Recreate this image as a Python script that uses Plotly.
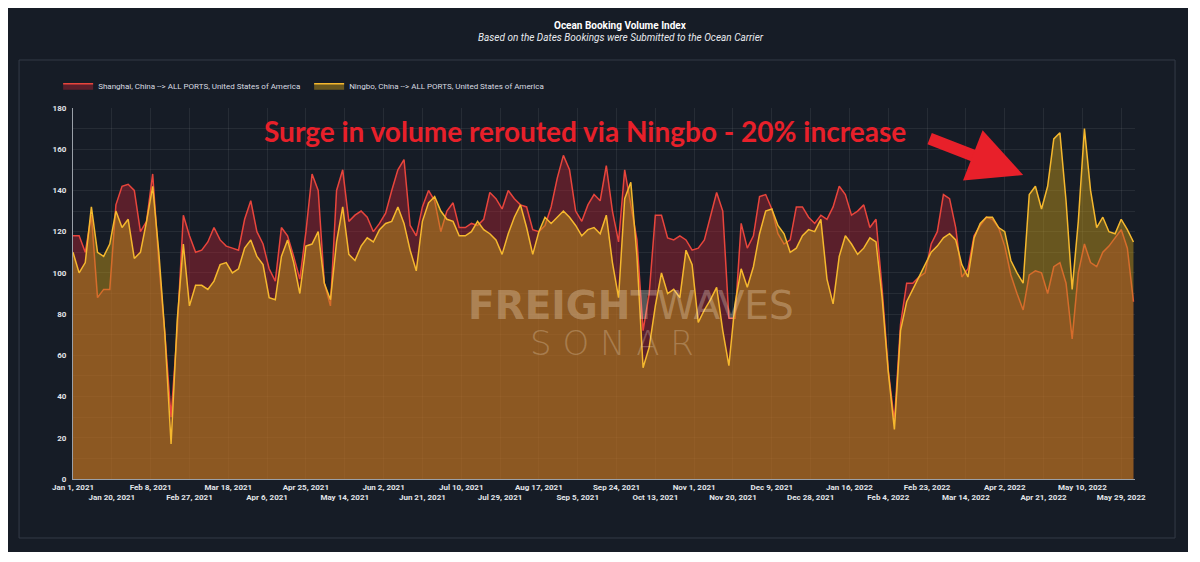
import pandas as pd
import plotly.graph_objects as go

start_date = "2021-01-01"

shanghai = [
    118, 118, 110, 128, 88, 92, 92, 133, 142, 143,
    140, 120, 125, 148, 105, 70, 30, 72, 128, 118,
    110, 111, 115, 122, 116, 113, 112, 111, 126, 135,
    120, 114, 102, 96, 122, 118, 108, 97, 120, 148,
    140, 95, 84, 140, 150, 125, 128, 130, 127, 120,
    124, 129, 140, 150, 155, 123, 118, 132, 140, 135,
    120, 130, 134, 122, 122, 124, 123, 126, 139, 136,
    131, 140, 136, 133, 132, 121, 120, 123, 132, 146,
    157, 150, 130, 125, 133, 138, 135, 152, 130, 115,
    150, 132, 116, 72, 90, 128, 128, 117, 116, 118,
    116, 111, 112, 116, 128, 139, 130, 78, 78, 124,
    112, 118, 137, 138, 131, 119, 114, 116, 132, 132,
    127, 124, 128, 126, 132, 142, 138, 128, 130, 133,
    122, 126, 92, 53, 28, 75, 95, 95, 98, 100,
    114, 120, 138, 136, 122, 98, 102, 118, 123, 127,
    126, 122, 113, 99, 90, 82, 99, 101, 100, 90,
    103, 105, 95, 68, 100, 114, 105, 103, 110, 113,
    117, 121, 112, 86,
]

ningbo = [
    110, 100, 105, 132, 110, 108, 114, 130, 122, 126,
    107, 110, 125, 142, 110, 70, 17, 77, 114, 84,
    94, 94, 92, 96, 104, 105, 100, 102, 112, 116,
    108, 104, 88, 87, 108, 116, 105, 90, 113, 114,
    120, 95, 87, 115, 132, 109, 106, 113, 117, 115,
    121, 124, 125, 132, 124, 111, 101, 125, 134, 137,
    130, 126, 125, 118, 118, 120, 125, 121, 119, 116,
    109, 119, 127, 133, 122, 109, 120, 127, 124, 127,
    130, 127, 123, 118, 121, 122, 119, 128, 105, 88,
    136, 144, 108, 54, 64, 84, 100, 90, 92, 88,
    111, 104, 76, 82, 87, 93, 72, 55, 85, 102,
    93, 103, 119, 130, 131, 123, 119, 110, 112, 118,
    121, 120, 126, 97, 85, 108, 118, 114, 109, 112,
    117, 115, 88, 52, 24, 72, 86, 92, 98, 104,
    110, 113, 117, 119, 116, 104, 98, 117, 124, 127,
    127, 122, 120, 106, 100, 95, 138, 142, 131, 142,
    165, 168, 135, 92, 125, 170, 140, 122, 127, 120,
    119, 126, 121, 115,
]

tick_labels = [
    "Jan 1, 2021", "Jan 20, 2021", "Feb 8, 2021", "Feb 27, 2021",
    "Mar 18, 2021", "Apr 6, 2021", "Apr 25, 2021", "May 14, 2021",
    "Jun 2, 2021", "Jun 21, 2021", "Jul 10, 2021", "Jul 29, 2021",
    "Aug 17, 2021", "Sep 5, 2021", "Sep 24, 2021", "Oct 13, 2021",
    "Nov 1, 2021", "Nov 20, 2021", "Dec 9, 2021", "Dec 28, 2021",
    "Jan 16, 2022", "Feb 4, 2022", "Feb 23, 2022", "Mar 14, 2022",
    "Apr 2, 2022", "Apr 21, 2022", "May 10, 2022", "May 29, 2022",
]

dates = pd.date_range(start_date, periods=len(shanghai), freq="3D")
tick_dates = pd.date_range(start_date, periods=len(tick_labels), freq="19D")
# every other label goes on a second row
tick_text = [t if i % 2 == 0 else "<br>" + t for i, t in enumerate(tick_labels)]

panel = "#161c26"
font = "Roboto"

fig = go.Figure()

fig.add_trace(go.Scatter(
    x=dates, y=shanghai, name="Shanghai, China --> ALL PORTS, United States of America",
    mode="lines", fill="tozeroy", fillcolor="rgba(185,35,50,0.42)",
    line=dict(color="#e8453c", width=1.5),
))
fig.add_trace(go.Scatter(
    x=dates, y=ningbo, name="Ningbo, China --> ALL PORTS, United States of America",
    mode="lines", fill="tozeroy", fillcolor="rgba(195,150,25,0.48)",
    line=dict(color="#f5b82e", width=1.5),
))

# page body adds 8px white around the figure, which gives the white border
fig.update_layout(
    width=1180, height=544,
    margin=dict(l=65, r=53, t=100, b=73),
    paper_bgcolor=panel,
    plot_bgcolor="rgba(0,0,0,0)",
    font=dict(family=font, color="#d8dbe0", size=8),
    showlegend=True,
    legend=dict(orientation="h", x=-0.014, y=1.06, xanchor="left", yanchor="middle",
                itemwidth=30, entrywidth=206,
                font=dict(size=8, color="#d8dbe0"), bgcolor="rgba(0,0,0,0)"),
    xaxis=dict(
        range=["2021-01-01", "2022-06-04 18:00"],
        tickvals=tick_dates, ticktext=tick_text, tickangle=0,
        tickfont=dict(size=8, color="#e2e5e9", weight="bold"),
        showgrid=True, gridcolor="rgba(255,255,255,0.07)", gridwidth=1,
        showline=True, linecolor="#9aa0a8", linewidth=1,
        ticks="", zeroline=False,
    ),
    yaxis=dict(
        range=[0, 180], dtick=20, tick0=0,
        tickfont=dict(size=8, color="#e2e5e9", weight="bold"),
        showgrid=True, gridcolor="rgba(255,255,255,0.07)",
        minor=dict(dtick=10, showgrid=True, gridcolor="rgba(255,255,255,0.07)"),
        showline=True, linecolor="#9aa0a8", linewidth=1,
        ticks="", zeroline=False, ticklabelstandoff=4,
    ),
)

# inner frame
fig.add_shape(type="rect", xref="paper", yref="paper", layer="below",
              x0=-0.0508, x1=1.0377, y0=-0.159, y1=1.1294,
              fillcolor="rgba(0,0,0,0)", line=dict(color="#343b47", width=1))

# titles
fig.add_annotation(text="<b>Ocean Booking Volume Index</b>", xref="paper", yref="paper",
                   x=0.516, y=1.2237, xanchor="center", yanchor="middle", showarrow=False,
                   font=dict(size=10, color="white", family=font))
fig.add_annotation(text="<i>Based on the Dates Bookings were Submitted to the Ocean Carrier</i>",
                   xref="paper", yref="paper", x=0.516, y=1.1887,
                   xanchor="center", yanchor="middle", showarrow=False,
                   font=dict(size=10, color="#e8eaee", family=font))

# watermark
fig.add_annotation(text="<b>FREIGHT</b>WAVES", xref="paper", yref="paper",
                   x=0.525, y=0.469, xanchor="center", yanchor="middle", showarrow=False,
                   font=dict(size=39, color="rgba(255,238,215,0.30)", family="DejaVu Sans"))
fig.add_annotation(text="S O N A R", xref="paper", yref="paper",
                   x=0.508, y=0.3666, xanchor="center", yanchor="middle", showarrow=False,
                   font=dict(size=34, color="rgba(255,238,215,0.25)", family="DejaVu Sans", weight=200))

# callout
fig.add_annotation(text="<b>Surge in volume rerouted via Ningbo - 20% increase</b>",
                   xref="paper", yref="paper", x=0.482, y=0.938,
                   xanchor="center", yanchor="middle", showarrow=False,
                   font=dict(size=28, color="#e8202a", family="Lato"))
fig.add_annotation(x="2022-04-11", y=147.5, xref="x", yref="y", text="",
                   showarrow=True, ax=-95, ay=-37, arrowhead=2, arrowsize=0.9,
                   arrowwidth=12, arrowcolor="#e8202a")

fig.write_html("out.html")
